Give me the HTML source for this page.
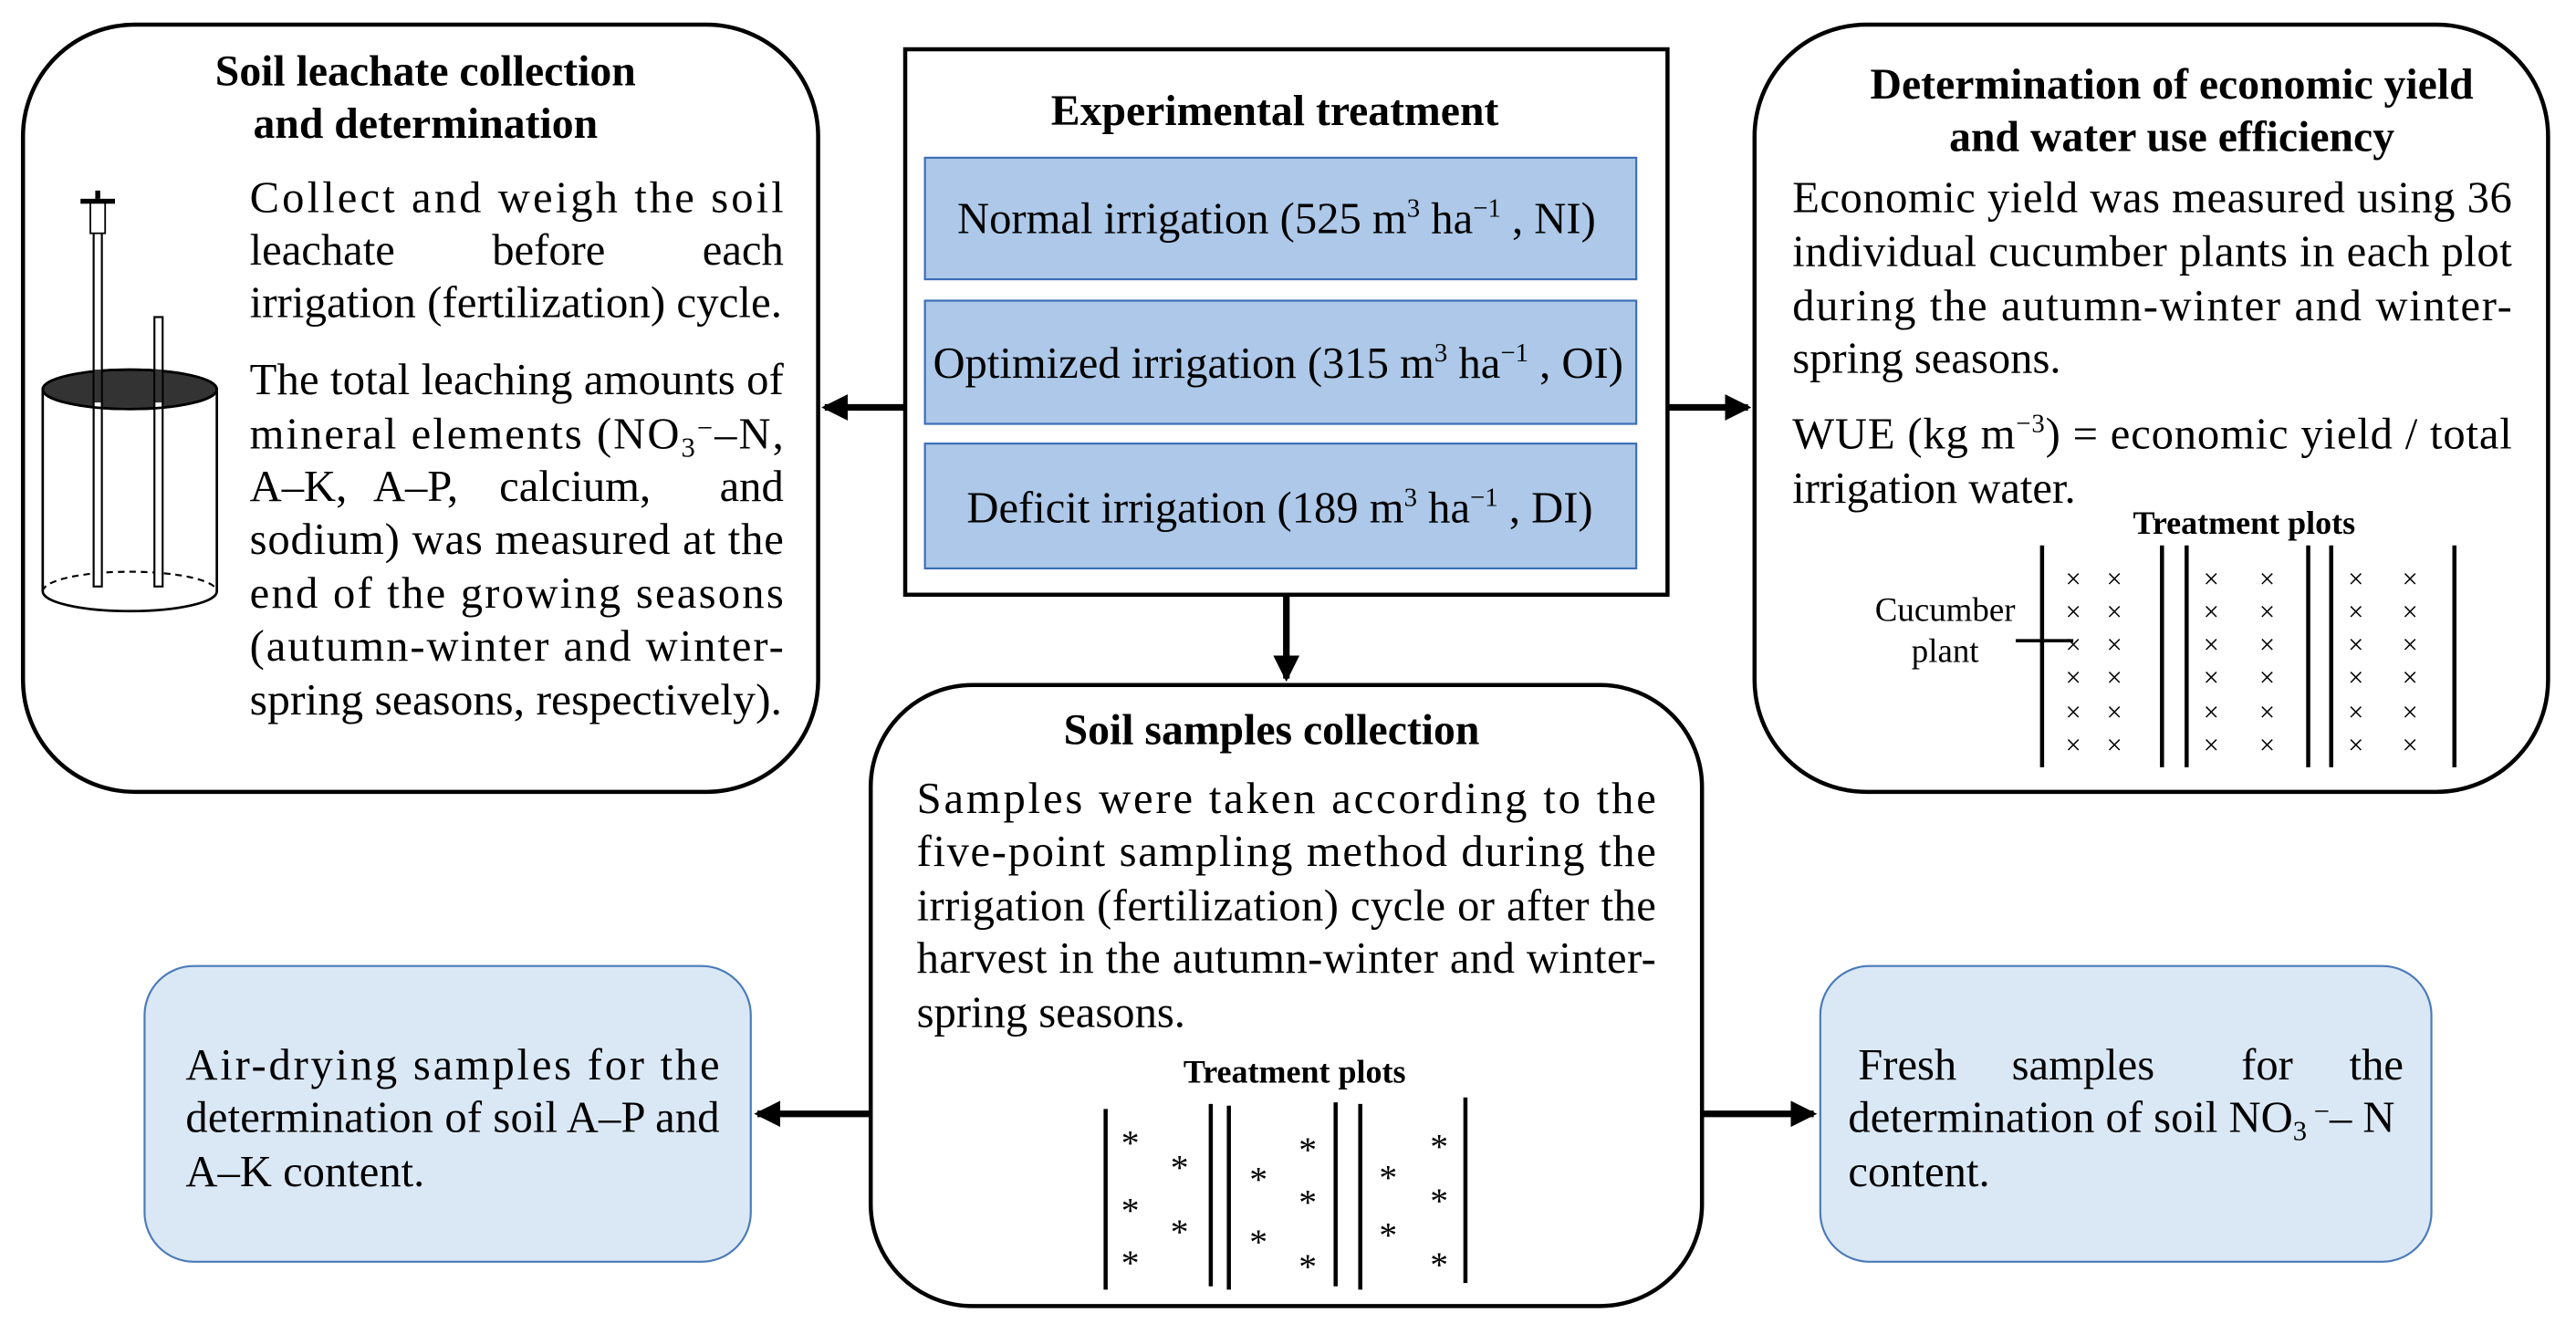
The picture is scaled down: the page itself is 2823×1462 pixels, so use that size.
<!DOCTYPE html>
<html><head><meta charset="utf-8"><style>
html,body{margin:0;padding:0;background:#fff;}
svg{display:block;}
text{font-family:"Liberation Serif",serif;fill:#000;}
.b{font-size:27px;}
.t{font-size:26.5px;font-weight:bold;}
.s{font-size:20px;font-weight:bold;}
</style></head><body>
<svg width="2823" height="1462" viewBox="0 0 1568 812" preserveAspectRatio="none" xmlns="http://www.w3.org/2000/svg">
<defs>
<marker id="ah" markerWidth="4" markerHeight="4" refX="3.5" refY="2" orient="auto" markerUnits="strokeWidth"><path d="M0,0 L4,2 L0,4 z" fill="#000"/></marker>
</defs>
<!-- Left box -->
<rect x="14" y="15" width="484" height="467" rx="68" fill="#fff" stroke="#000" stroke-width="2.5"/>
<text class="t" x="259" y="52" text-anchor="middle">Soil leachate collection</text>
<text class="t" x="259" y="84" text-anchor="middle">and determination</text>
<g class="b">
<text x="152" y="129" textLength="325" lengthAdjust="spacing">Collect and weigh the soil</text>
<text x="152" y="161">leachate</text><text x="334" y="161" text-anchor="middle">before</text><text x="477" y="161" text-anchor="end">each</text>
<text x="152" y="193" textLength="324" lengthAdjust="spacingAndGlyphs">irrigation (fertilization) cycle.</text>
<text x="152" y="240" textLength="325" lengthAdjust="spacing">The total leaching amounts of</text>
<text x="152" y="273" textLength="325" lengthAdjust="spacing">mineral elements (NO<tspan dy="5" font-size="17">3</tspan><tspan dy="-12" font-size="17">−</tspan><tspan dy="7">–N,</tspan></text>
<text x="152" y="305">A–K,</text><text x="253" y="305" text-anchor="middle">A–P,</text><text x="350" y="305" text-anchor="middle">calcium,</text><text x="477" y="305" text-anchor="end">and</text>
<text x="152" y="337" textLength="325" lengthAdjust="spacing">sodium) was measured at the</text>
<text x="152" y="370" textLength="325" lengthAdjust="spacing">end of the growing seasons</text>
<text x="152" y="402" textLength="325" lengthAdjust="spacing">(autumn-winter and winter-</text>
<text x="152" y="435" textLength="324" lengthAdjust="spacingAndGlyphs">spring seasons, respectively).</text>
</g>
<!-- cylinder -->
<path d="M26,237 L26,360 A53,12 0 0 0 132,360 L132,237" fill="#fff" stroke="#000" stroke-width="1.5"/>
<path d="M26,360 A53,12 0 0 1 132,360" fill="none" stroke="#000" stroke-width="1.2" stroke-dasharray="4,3"/>
<ellipse cx="79" cy="237" rx="53" ry="12" fill="#333" stroke="#000" stroke-width="1.5"/>
<rect x="57" y="140" width="5" height="217" fill="#fff" stroke="#000" stroke-width="1.2"/>
<rect x="94" y="193" width="5" height="164" fill="#fff" stroke="#000" stroke-width="1.2"/>
<rect x="55" y="122" width="9" height="20" fill="#fff" stroke="#000" stroke-width="1"/>
<rect x="49" y="121" width="21" height="3" fill="#000"/>
<rect x="58" y="116" width="3" height="5" fill="#000"/>
<ellipse cx="79" cy="237" rx="53" ry="12" fill="none" stroke="#000" stroke-width="1.5"/>
<rect x="57" y="225" width="5" height="20" fill="#333"/>
<rect x="94" y="225" width="5" height="20" fill="#333"/>
<line x1="57" y1="225" x2="57" y2="245" stroke="#000"/><line x1="62" y1="225" x2="62" y2="245" stroke="#000"/>
<line x1="94" y1="225" x2="94" y2="245" stroke="#000"/><line x1="99" y1="225" x2="99" y2="245" stroke="#000"/>

<!-- Center box -->
<rect x="551" y="30" width="464" height="332" fill="#fff" stroke="#000" stroke-width="2.5"/>
<text class="t" x="776" y="76" text-anchor="middle">Experimental treatment</text>
<g fill="#adc8e8" stroke="#3b6db5" stroke-width="1.2">
<rect x="563" y="96" width="433" height="74"/>
<rect x="563" y="183" width="433" height="75"/>
<rect x="563" y="270" width="433" height="76"/>
</g>
<g class="b" text-anchor="middle">
<text x="777" y="142">Normal  irrigation (525 m<tspan dy="-10" font-size="16">3</tspan><tspan dy="10"> ha</tspan><tspan dy="-10" font-size="16">−1</tspan><tspan dy="10"> , NI)</tspan></text>
<text x="778" y="230">Optimized  irrigation (315 m<tspan dy="-10" font-size="16">3</tspan><tspan dy="10"> ha</tspan><tspan dy="-10" font-size="16">−1</tspan><tspan dy="10"> , OI)</tspan></text>
<text x="779" y="318">Deficit irrigation (189 m<tspan dy="-10" font-size="16">3</tspan><tspan dy="10"> ha</tspan><tspan dy="-10" font-size="16">−1</tspan><tspan dy="10"> , DI)</tspan></text>
</g>

<!-- Right box -->
<rect x="1068" y="15" width="483" height="467" rx="68" fill="#fff" stroke="#000" stroke-width="2.5"/>
<text class="t" x="1322" y="60" text-anchor="middle">Determination of economic yield</text>
<text class="t" x="1322" y="92" text-anchor="middle">and water use efficiency</text>
<g class="b">
<text x="1091" y="129" textLength="438" lengthAdjust="spacing">Economic yield was measured using 36</text>
<text x="1091" y="162" textLength="438" lengthAdjust="spacing">individual cucumber plants in each plot</text>
<text x="1091" y="195" textLength="438" lengthAdjust="spacing">during the autumn-winter and winter-</text>
<text x="1091" y="227">spring seasons.</text>
<text x="1091" y="273" textLength="438" lengthAdjust="spacing">WUE (kg m<tspan dy="-10" font-size="16">−3</tspan><tspan dy="10">) = economic yield / total</tspan></text>
<text x="1091" y="306">irrigation water.</text>
</g>
<text class="s" x="1366" y="325" text-anchor="middle">Treatment plots</text>
<g stroke="#000" stroke-width="2.5">
<line x1="1243" y1="332" x2="1243" y2="467"/><line x1="1316" y1="332" x2="1316" y2="467"/>
<line x1="1331" y1="332" x2="1331" y2="467"/><line x1="1405" y1="332" x2="1405" y2="467"/>
<line x1="1419" y1="332" x2="1419" y2="467"/><line x1="1494" y1="332" x2="1494" y2="467"/>
<line x1="1227" y1="390" x2="1262" y2="390" stroke-width="2"/>
</g>
<text x="1184" y="378" font-size="20.5" text-anchor="middle">Cucumber</text>
<text x="1184" y="403" font-size="20.5" text-anchor="middle">plant</text>
<g font-size="17" text-anchor="middle">
<text x="1262" y="358">×</text><text x="1287" y="358">×</text><text x="1346" y="358">×</text><text x="1380" y="358">×</text><text x="1434" y="358">×</text><text x="1467" y="358">×</text>
<text x="1262" y="378">×</text><text x="1287" y="378">×</text><text x="1346" y="378">×</text><text x="1380" y="378">×</text><text x="1434" y="378">×</text><text x="1467" y="378">×</text>
<text x="1262" y="398">×</text><text x="1287" y="398">×</text><text x="1346" y="398">×</text><text x="1380" y="398">×</text><text x="1434" y="398">×</text><text x="1467" y="398">×</text>
<text x="1262" y="418">×</text><text x="1287" y="418">×</text><text x="1346" y="418">×</text><text x="1380" y="418">×</text><text x="1434" y="418">×</text><text x="1467" y="418">×</text>
<text x="1262" y="439">×</text><text x="1287" y="439">×</text><text x="1346" y="439">×</text><text x="1380" y="439">×</text><text x="1434" y="439">×</text><text x="1467" y="439">×</text>
<text x="1262" y="459">×</text><text x="1287" y="459">×</text><text x="1346" y="459">×</text><text x="1380" y="459">×</text><text x="1434" y="459">×</text><text x="1467" y="459">×</text>
</g>

<!-- Soil samples box -->
<rect x="530" y="417" width="506" height="378" rx="62" fill="#fff" stroke="#000" stroke-width="2.5"/>
<text class="t" x="774" y="453" text-anchor="middle">Soil samples collection</text>
<g class="b">
<text x="558" y="495" textLength="450" lengthAdjust="spacing">Samples were taken according to the</text>
<text x="558" y="527" textLength="450" lengthAdjust="spacing">five-point sampling method during the</text>
<text x="558" y="560" textLength="450" lengthAdjust="spacing">irrigation (fertilization) cycle or after the</text>
<text x="558" y="592" textLength="450" lengthAdjust="spacing">harvest in the autumn-winter and winter-</text>
<text x="558" y="625">spring seasons.</text>
</g>
<text class="s" x="788" y="659" text-anchor="middle">Treatment plots</text>
<g stroke="#000" stroke-width="2.5">
<line x1="673" y1="675" x2="673" y2="785"/><line x1="737" y1="672" x2="737" y2="783"/>
<line x1="748" y1="673" x2="748" y2="785"/><line x1="813" y1="671" x2="813" y2="783"/>
<line x1="828" y1="672" x2="828" y2="785"/><line x1="892" y1="668" x2="892" y2="781"/>
</g>
<g font-size="22" text-anchor="middle">
<text x="688" y="703">*</text><text x="688" y="744">*</text><text x="688" y="776">*</text>
<text x="718" y="718">*</text><text x="718" y="757">*</text>
<text x="766" y="725">*</text><text x="766" y="763">*</text>
<text x="796" y="707">*</text><text x="796" y="739">*</text><text x="796" y="778">*</text>
<text x="845" y="724">*</text><text x="845" y="759">*</text>
<text x="876" y="705">*</text><text x="876" y="738">*</text><text x="876" y="777">*</text>
</g>

<!-- Bottom blue boxes -->
<rect x="88" y="588" width="369" height="180" rx="30" fill="#dae8f5" stroke="#4a7ab8" stroke-width="1.2"/>
<g class="b">
<text x="113" y="657" textLength="325" lengthAdjust="spacing">Air-drying samples for the</text>
<text x="113" y="689" textLength="325" lengthAdjust="spacing">determination of soil A–P and</text>
<text x="113" y="722">A–K content.</text>
</g>
<rect x="1108" y="588" width="372" height="180" rx="30" fill="#dae8f5" stroke="#4a7ab8" stroke-width="1.2"/>
<g class="b">
<text x="1131" y="657">Fresh</text><text x="1268" y="657" text-anchor="middle">samples</text><text x="1380" y="657" text-anchor="middle">for</text><text x="1463" y="657" text-anchor="end">the</text>
<text x="1125" y="689">determination of soil NO<tspan dy="5" font-size="17">3</tspan><tspan dy="-12" font-size="17"> −</tspan><tspan dy="7">– N</tspan></text>
<text x="1125" y="722">content.</text>
</g>

<!-- Arrows -->
<g stroke="#000" stroke-width="4" fill="none">
<line x1="551" y1="248" x2="502" y2="248" marker-end="url(#ah)"/>
<line x1="1015" y1="248" x2="1064" y2="248" marker-end="url(#ah)"/>
<line x1="783" y1="362" x2="783" y2="413" marker-end="url(#ah)"/>
<line x1="530" y1="678" x2="461" y2="678" marker-end="url(#ah)"/>
<line x1="1036" y1="678" x2="1104" y2="678" marker-end="url(#ah)"/>
</g>
</svg>
</body></html>
